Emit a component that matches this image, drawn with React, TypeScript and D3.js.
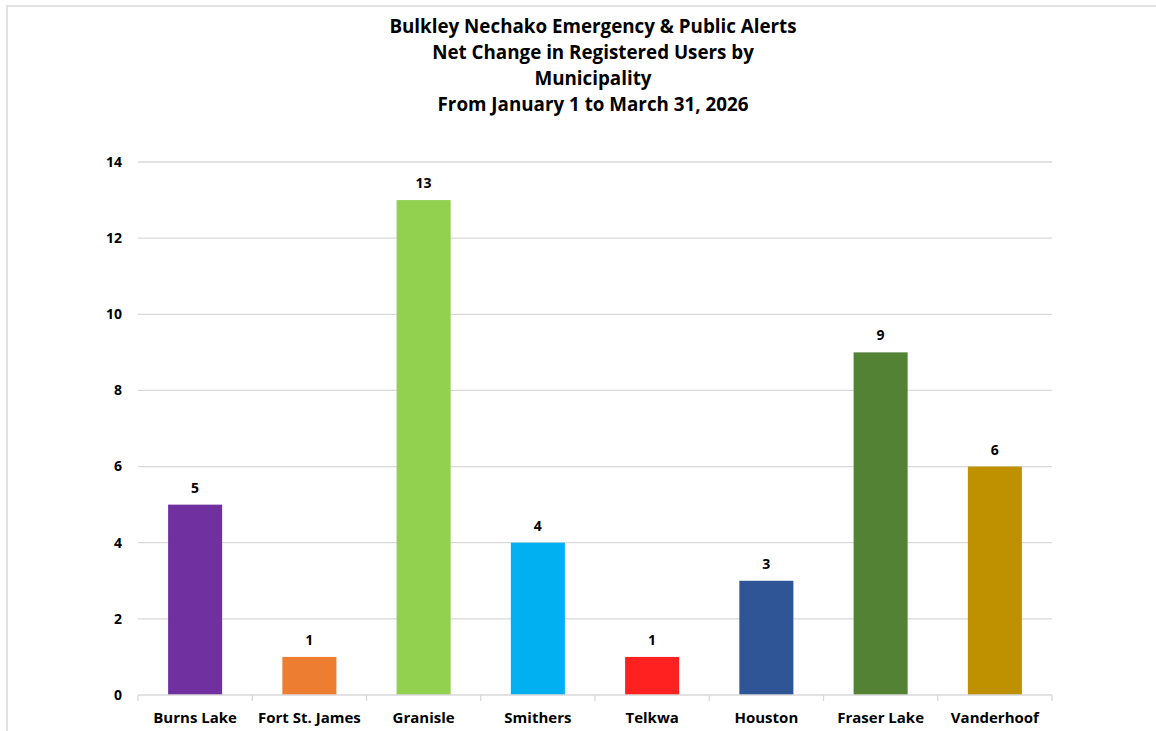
import React from "react";
import * as d3 from "d3";

const categories = ["Burns Lake", "Fort St. James", "Granisle", "Smithers", "Telkwa", "Houston", "Fraser Lake", "Vanderhoof"];
const values = [5, 1, 13, 4, 1, 3, 9, 6];
const colors = ["#7030A0", "#ED7D31", "#92D050", "#00B0F0", "#FF2020", "#2F5597", "#548235", "#BF9000"];
const yTicks = [0, 2, 4, 6, 8, 10, 12, 14];
const titleLines = [
  "Bulkley Nechako Emergency & Public Alerts",
  "Net Change in Registered Users by",
  "Municipality",
  "From January 1 to March 31, 2026",
];

const W = 1156, H = 731;
const left = 138, right = 1052, top = 162, bottom = 695;
const font = "'Open Sans', 'Noto Sans', sans-serif";

export default function App() {
  const x = d3.scaleBand<string>().domain(categories).range([left, right]).paddingInner(0.527).paddingOuter(0.2635);
  const y = d3.scaleLinear().domain([0, 14]).range([bottom, top]);
  const step = x.step();
  return (
    <svg width={W} height={H} style={{ position: "absolute", left: 0, top: 0, background: "#fff" }}>
      <rect x={7} y={6} width={W + 10} height={H + 10} fill="#fff" stroke="#d9d9d9" strokeWidth={1.5} />
      {titleLines.map((t, i) => (
        <text key={i} x={593} y={32.5 + i * 26} textAnchor="middle" fontFamily={font} fontWeight={700} fontSize={18.8} fill="#000">{t}</text>
      ))}
      {yTicks.map((t) => (
        <g key={t}>
          {t > 0 && <line x1={left} x2={right} y1={y(t)} y2={y(t)} stroke="#d9d9d9" strokeWidth={1.3} />}
          <text x={122} y={y(t)} dy="0.35em" textAnchor="end" fontFamily={font} fontWeight={700} fontSize={14} fill="#000">{t}</text>
        </g>
      ))}
      {categories.map((c, i) => (
        <g key={c}>
          <rect x={x(c)} y={y(values[i])} width={x.bandwidth()} height={y(0) - y(values[i])} fill={colors[i]} />
          <text x={(x(c) as number) + x.bandwidth() / 2} y={y(values[i]) - 12} textAnchor="middle" fontFamily={font} fontWeight={700} fontSize={14} fill="#000">{values[i]}</text>
          <text x={(x(c) as number) + x.bandwidth() / 2} y={723} textAnchor="middle" fontFamily={font} fontWeight={700} fontSize={15} fill="#000">{c}</text>
        </g>
      ))}
      <line x1={left} x2={right} y1={bottom} y2={bottom} stroke="#d9d9d9" strokeWidth={1.3} />
      {d3.range(categories.length + 1).map((i) => (
        <line key={i} x1={left + i * step} x2={left + i * step} y1={bottom} y2={bottom + 6} stroke="#d9d9d9" strokeWidth={1.3} />
      ))}
    </svg>
  );
}
